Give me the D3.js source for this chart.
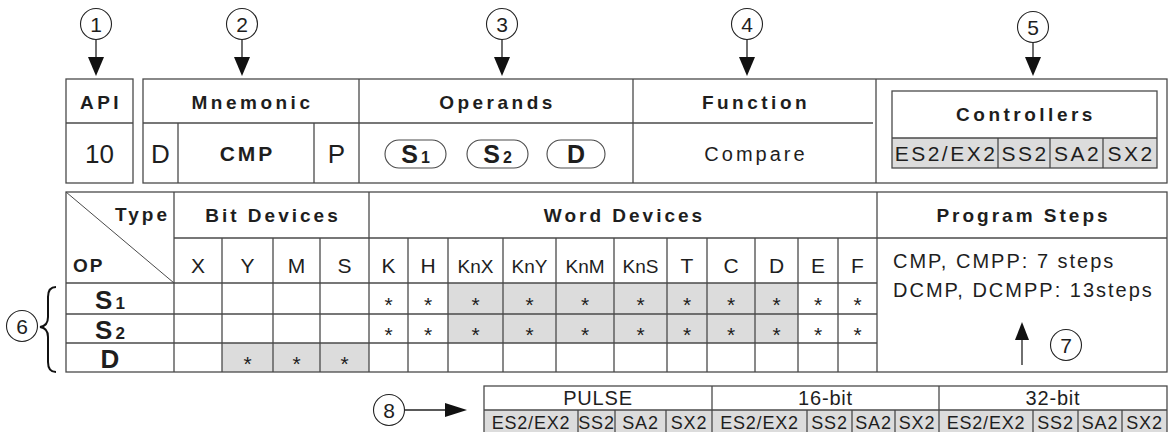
<!DOCTYPE html>
<html><head><meta charset="utf-8">
<script src="https://cdn.jsdelivr.net/npm/d3@7"></script>
<style>
body{margin:0;background:#fff}
svg{display:block}
text{font-family:"Liberation Sans",Arial,sans-serif;fill:#1e1e1e}
</style>
</head><body>
<svg id="c" width="1169" height="432"></svg>
<script>
// ---------- DATA ----------
const calloutLabels = ["1","2","3","4","5","6","7","8"];
const headerLabels = ["API","Mnemonic","Operands","Function","Controllers"];
const apiNumber = "10";
const mnemonicParts = ["D","CMP","P"];
const operandBases = ["S","S","D"];
const operandSubs = ["1","2",""];
const functionName = "Compare";
const controllerModels = ["ES2/EX2","SS2","SA2","SX2"];
const groupHeaders = ["Bit Devices","Word Devices","Program Steps"];
const bitDevices = ["X","Y","M","S"];
const wordDevices = ["K","H","KnX","KnY","KnM","KnS","T","C","D","E","F"];
const opRowBases = ["S","S","D"];
const opRowSubs = ["1","2",""];
const starS1 = [0,0,0,0, 1,1,1,1,1,1,1,1,1,1,1];
const starS2 = [0,0,0,0, 1,1,1,1,1,1,1,1,1,1,1];
const starD  = [0,1,1,1, 0,0,0,0,0,0,0,0,0,0,0];
const shadeS1 = [0,0,0,0, 0,0,1,1,1,1,1,1,1,0,0];
const shadeS2 = [0,0,0,0, 0,0,1,1,1,1,1,1,1,0,0];
const shadeD  = [0,1,1,1, 0,0,0,0,0,0,0,0,0,0,0];
const programSteps = ["CMP, CMPP: 7 steps","DCMP, DCMPP: 13steps"];
const pulseGroups = ["PULSE","16-bit","32-bit"];
const pulseModels = ["ES2/EX2","SS2","SA2","SX2"];

// ---------- LAYOUT ----------
const LINE = "#4a4a4a", SHADE = "#dcdcdc", SW = 1.3;
const svg = d3.select("#c");
const gLines = () => svg.append("g").attr("fill","none").attr("stroke",LINE).attr("stroke-width",SW);

function line(g,x1,y1,x2,y2){ g.append("line").attr("x1",x1).attr("y1",y1).attr("x2",x2).attr("y2",y2); }
function txt(x,y,s,size,opt={}){
  return svg.append("text").attr("x",x).attr("y",y).text(s)
    .attr("font-size",size).attr("font-weight",opt.weight||"normal")
    .attr("letter-spacing",opt.ls||0).attr("text-anchor",opt.anchor||"middle");
}
function subText(x,y,base,sub,size,subSize){
  const t = svg.append("text").attr("x",x).attr("y",y).attr("text-anchor","middle").attr("font-weight","bold");
  t.append("tspan").attr("font-size",size).text(base);
  if(sub) t.append("tspan").attr("font-size",subSize).attr("dx",3).text(sub);
  return t;
}

// ===== Table 1 =====
const t1 = {top:79, mid:123, bot:183};
const l1 = gLines();
l1.append("rect").attr("x",66).attr("y",t1.top).attr("width",67).attr("height",t1.bot-t1.top);
line(l1,66,t1.mid,133,t1.mid);
l1.append("rect").attr("x",143).attr("y",t1.top).attr("width",1167-143).attr("height",t1.bot-t1.top);
const sectX = [143,359,633,876,1167];
[359,633,876].forEach(x=>line(l1,x,t1.top,x,t1.bot));
line(l1,143,t1.mid,873,t1.mid);
const mnemX = [143,178,314,359];
[178,314].forEach(x=>line(l1,x,t1.mid,x,t1.bot));

const hdrCenters = [99.5, ...d3.range(3).map(i=>(sectX[i]+sectX[i+1])/2)];
headerLabels.slice(0,4).forEach((h,i)=>txt(hdrCenters[i]+1.5,109,h,19,{weight:"bold",ls:3.5}));
txt(99.5,163,apiNumber,26);
txt((mnemX[0]+mnemX[1])/2,163,mnemonicParts[0],26);
txt((mnemX[1]+mnemX[2])/2+1.5,161,mnemonicParts[1],21,{weight:"bold",ls:3});
txt((mnemX[2]+mnemX[3])/2,163,mnemonicParts[2],26);
const ovalX = [[385,446],[467,528],[547,605]];
operandBases.forEach((b,i)=>{
  const [a,c] = ovalX[i];
  l1.append("rect").attr("x",a).attr("y",140).attr("width",c-a).attr("height",28).attr("rx",14).attr("stroke-width",1.1);
  subText((a+c)/2,163,b,operandSubs[i],25,16);
});
txt((633+876)/2+1.5,161,functionName,20,{ls:3});

const ctrl = {x0:892,x1:1157,y0:91,ymid:138,y1:168};
const ctrlEdges = [892,998,1050,1103,1157];
controllerModels.forEach((m,i)=>{
  svg.append("rect").attr("x",ctrlEdges[i]).attr("y",ctrl.ymid).attr("width",ctrlEdges[i+1]-ctrlEdges[i]).attr("height",ctrl.y1-ctrl.ymid).attr("fill",SHADE);
});
const lc = gLines();
lc.append("rect").attr("x",ctrl.x0).attr("y",ctrl.y0).attr("width",ctrl.x1-ctrl.x0).attr("height",ctrl.y1-ctrl.y0);
line(lc,ctrl.x0,ctrl.ymid,ctrl.x1,ctrl.ymid);
ctrlEdges.slice(1,-1).forEach(x=>line(lc,x,ctrl.ymid,x,ctrl.y1));
txt((ctrl.x0+ctrl.x1)/2+1.5,121,headerLabels[4],19,{weight:"bold",ls:3.5});
controllerModels.forEach((m,i)=>txt((ctrlEdges[i]+ctrlEdges[i+1])/2+1,161,m,21,{ls:2.5}));

// ===== Table 2 =====
const devices = [...bitDevices, ...wordDevices];
const colEdges = [174,222,273,320,369,408,448,503,556,614,667,707,755,798,838,877];
const xCol = d3.scaleOrdinal().domain(d3.range(devices.length)).range(colEdges.slice(0,-1));
const wCol = i => colEdges[i+1]-colEdges[i];
const rowEdges = [283,314,343,372];
const yRow = d3.scaleOrdinal().domain(d3.range(3)).range(rowEdges.slice(0,-1));
const T2 = {x0:66,x1:1167,top:192,h2:238,h3:283,bot:372};
const stars = [starS1,starS2,starD];
const shades = [shadeS1,shadeS2,shadeD];

shades.forEach((row,r)=>row.forEach((v,c)=>{
  if(v) svg.append("rect").attr("x",xCol(c)).attr("y",yRow(r)).attr("width",wCol(c)).attr("height",rowEdges[r+1]-rowEdges[r]).attr("fill",SHADE);
}));

const l2 = gLines();
l2.append("rect").attr("x",T2.x0).attr("y",T2.top).attr("width",T2.x1-T2.x0).attr("height",T2.bot-T2.top);
line(l2,174,T2.h2,T2.x1,T2.h2);
line(l2,T2.x0,T2.h3,877,T2.h3);
rowEdges.slice(1,-1).forEach(y=>line(l2,T2.x0,y,877,y));
[174,369,877].forEach(x=>line(l2,x,T2.top,x,T2.bot));
colEdges.forEach(x=>{ if(![174,369,877].includes(x)) line(l2,x,T2.h2,x,T2.bot); });
l2.append("line").attr("x1",66).attr("y1",192).attr("x2",174).attr("y2",283).attr("stroke-width",1);

txt(170,221,"Type",19,{weight:"bold",ls:3,anchor:"end"});
txt(73,272,"OP",19,{weight:"bold",ls:2,anchor:"start"});
txt((174+369)/2+1.5,222,groupHeaders[0],19,{weight:"bold",ls:3});
txt((369+877)/2+1.5,222,groupHeaders[1],19,{weight:"bold",ls:3});
txt((877+1167)/2+1.5,222,groupHeaders[2],19,{weight:"bold",ls:3});

devices.forEach((d,i)=>{
  const small = d.length>1;
  txt(xCol(i)+wCol(i)/2,273,d,small?19:21);
});
opRowBases.forEach((b,r)=>{
  const cy = (rowEdges[r]+rowEdges[r+1])/2;
  subText(110,cy+10,b,opRowSubs[r],26,17);
});
stars.forEach((row,r)=>row.forEach((v,c)=>{
  const cy = (rowEdges[r]+rowEdges[r+1])/2;
  if(v) txt(xCol(c)+wCol(c)/2,cy+13,"*",21);
}));
programSteps.forEach((s,i)=>txt(893,268+i*29,s,20,{ls:2,anchor:"start"}));

// ===== Bottom table =====
const B = {top:386,mid:410,bot:434};
const groupEdges = [484,712,939,1167];
const subEdges = [[484,578,615,666,712],[712,807,852,895,939],[939,1033,1078,1122,1167]];
subEdges.forEach(e=>pulseModels.forEach((m,i)=>{
  svg.append("rect").attr("x",e[i]).attr("y",B.mid).attr("width",e[i+1]-e[i]).attr("height",B.bot-B.mid).attr("fill",SHADE);
}));
const l3 = gLines();
l3.append("rect").attr("x",484).attr("y",B.top).attr("width",1167-484).attr("height",B.bot-B.top);
line(l3,484,B.mid,1167,B.mid);
groupEdges.slice(1,-1).forEach(x=>line(l3,x,B.top,x,B.bot));
subEdges.forEach(e=>e.slice(1,-1).forEach(x=>line(l3,x,B.mid,x,B.bot)));
pulseGroups.forEach((g,i)=>txt((groupEdges[i]+groupEdges[i+1])/2,405,g,20,{ls:0.8}));
subEdges.forEach(e=>pulseModels.forEach((m,i)=>txt((e[i]+e[i+1])/2,429,m,18,{ls:0.8})));

// ===== Callouts =====
const calloutPos = [[96,24],[242,24],[502,24],[747,24],[1033,27],[22,326],[1066,345],[389,410]];
const la = gLines();
calloutLabels.forEach((c,i)=>{
  const [x,y] = calloutPos[i];
  la.append("circle").attr("cx",x).attr("cy",y).attr("r",15.5).attr("stroke","#222").attr("stroke-width",1.1);
  txt(x,y+7.5,c,21);
});
const arrowFill = "#111";
calloutPos.slice(0,5).forEach(([x,y])=>{
  la.append("line").attr("x1",x).attr("y1",y+15).attr("x2",x).attr("y2",60).attr("stroke","#222");
  svg.append("path").attr("d",`M${x-8},57 L${x+8},57 L${x},76 Z`).attr("fill",arrowFill);
});
la.append("line").attr("x1",1022).attr("y1",365).attr("x2",1022).attr("y2",338).attr("stroke","#222");
svg.append("path").attr("d","M1015,340 L1029,340 L1022,322 Z").attr("fill",arrowFill);
la.append("line").attr("x1",405).attr("y1",410).attr("x2",448).attr("y2",410).attr("stroke","#222");
svg.append("path").attr("d","M445,403 L445,417 L467,410 Z").attr("fill",arrowFill);
la.append("path").attr("d","M56,287 Q48,287 48,297 L48,317 Q48,326 40,327 Q48,328 48,337 L48,362 Q48,372 56,372")
  .attr("stroke","#111").attr("stroke-width",2);
</script>
</body></html>
